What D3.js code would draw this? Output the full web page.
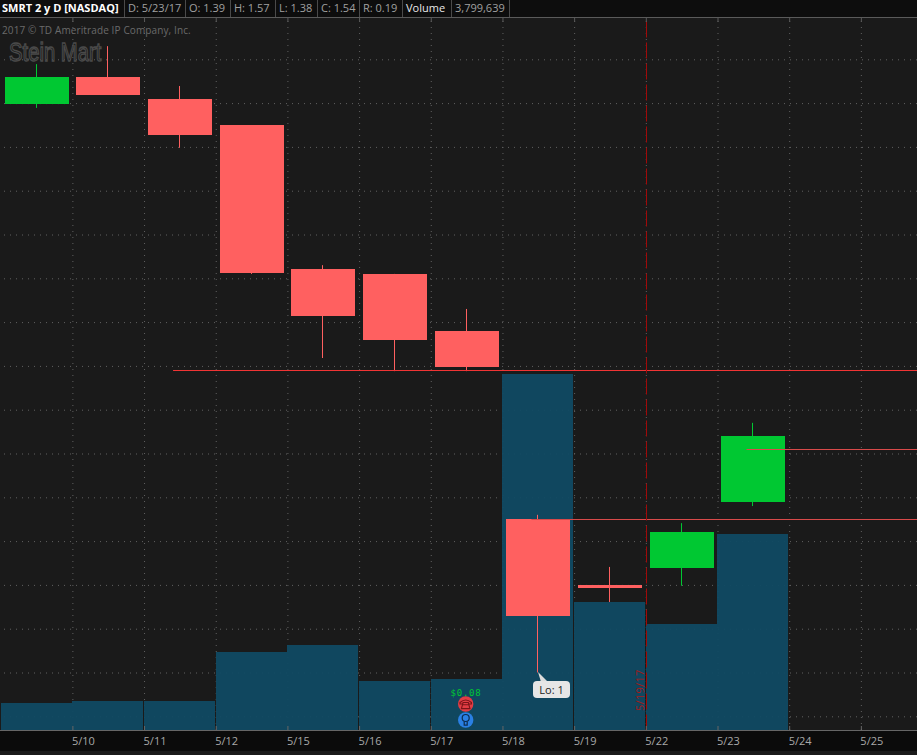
<!DOCTYPE html>
<html>
<head>
<meta charset="utf-8">
<title>SMRT 2 y D</title>
<script src="https://cdn.jsdelivr.net/npm/d3@7"></script>
<style>
  html, body { margin: 0; padding: 0; background: #1a1a1a; overflow: hidden; }
  svg { display: block; font-family: "Open Sans", sans-serif; }
  .grid line { stroke: #616161; stroke-dasharray: 1 5; }
  .grid path { display: none; }
</style>
</head>
<body>
<svg id="chart" width="917" height="755"></svg>
<script>
// daily candles
var days = ['5/9', '5/10', '5/11', '5/12', '5/15', '5/16', '5/17', '5/18', '5/19', '5/22', '5/23', '5/24', '5/25'];
var labelDays = days.slice(1);
var opens = [2.298, 2.360, 2.309, 2.250, 1.921, 1.910, 1.780, 1.350, 1.200, 1.239, 1.39];
var closes = [2.360, 2.319, 2.227, 1.912, 1.814, 1.759, 1.698, 1.129, 1.193, 1.321, 1.54];
var highs = [2.389, 2.430, 2.339, 2.250, 1.930, 1.910, 1.830, 1.360, 1.241, 1.341, 1.57];
var lows = [2.289, 2.319, 2.198, 1.910, 1.718, 1.688, 1.688, 1.00, 1.161, 1.198, 1.38];
var volumes = [523000, 562000, 562000, 1512000, 1648000, 950000, 989000, 6900000, 2480000, 2055000, 3799639];
var priceTicks = [0.9, 1.0, 1.1, 1.2, 1.3, 1.4, 1.5, 1.6, 1.7, 1.8, 1.9, 2.0, 2.1, 2.2, 2.3, 2.4];
var levelPrices = [1.69, 1.51, 1.35];
var levelStarts = ['5/11', '5/23', '5/18'];
var headerFields = ['D: 5/23/17', 'O: 1.39', 'H: 1.57', 'L: 1.38', 'C: 1.54', 'R: 0.19', 'Volume', '3,799,639'];
var headerEdges = [124, 185, 230, 275, 317, 359, 402, 451, 509];

var svg = d3.select('#chart');
var top_ = 17, bottom = 730;

var x = d3.scalePoint().domain(days).range([0.7, 0.7 + 71.68 * 12]);
var step = x.step();
var y = d3.scaleLinear().domain([0.9, 2.4]).range([716.3, 59.3]);
var yVol = d3.scaleLinear().domain([0, 3799639]).range([bottom, 534]);
var red = '#ff6060', green = '#00c832';

// grid
svg.append('g').attr('class', 'grid')
  .attr('transform', 'translate(0,' + bottom + ')')
  .call(d3.axisBottom(x).tickValues(labelDays).tickSize(-(bottom - top_)).tickFormat(''));
svg.append('g').attr('class', 'grid')
  .attr('transform', 'translate(917,0)')
  .call(d3.axisLeft(y).tickValues(priceTicks).tickSize(917).tickFormat(''));

// volume
svg.append('g').selectAll('rect')
  .data(volumes)
  .enter()
  .append('rect')
  .attr('x', function(d, i) {return Math.floor(x(days[i]) + 0.4);})
  .attr('y', function(d) {return Math.round(yVol(d));})
  .attr('width', 71)
  .attr('height', function(d) {return bottom - Math.round(yVol(d));})
  .attr('fill', '#104a63')
  .attr('fill-opacity', 0.95);

// copyright + logo
svg.append('text').attr('x', 2).attr('y', 33.5)
  .attr('font-size', 10).attr('letter-spacing', 0.12).attr('fill', '#6a6a6a')
  .text('2017 © TD Ameritrade IP Company, Inc.');
svg.append('text')
  .attr('transform', 'translate(9,61) scale(1.35,1.75)')
  .attr('font-family', '"Liberation Sans", sans-serif')
  .attr('font-size', 15)
  .attr('fill', 'none').attr('stroke', '#4a4a4a')
  .style('vector-effect', 'non-scaling-stroke')
  .attr('stroke-width', 1.2)
  .text('Stein Mart');

// candles
var candles = svg.append('g').selectAll('g')
  .data(opens)
  .enter()
  .append('g')
  .attr('fill', function(d, i) {return closes[i] >= d ? green : red;})
  .attr('stroke', function(d, i) {return closes[i] >= d ? green : red;});

candles.append('line')
  .attr('x1', function(d, i) {return Math.floor(x(days[i]) + step / 2 - 0.5) + 0.5;})
  .attr('x2', function(d, i) {return Math.floor(x(days[i]) + step / 2 - 0.5) + 0.5;})
  .attr('y1', function(d, i) {return y(highs[i]);})
  .attr('y2', function(d, i) {return y(lows[i]);});

candles.append('rect')
  .attr('x', function(d, i) {return Math.floor(x(days[i]) + 4.4);})
  .attr('width', 64)
  .attr('y', function(d, i) {return Math.round(y(Math.max(d, closes[i])));})
  .attr('height', function(d, i) {return Math.round(y(Math.min(d, closes[i]))) - Math.round(y(Math.max(d, closes[i])));})
  .attr('stroke', 'none');

// price levels, they sit on top of the candles
svg.append('g').selectAll('line')
  .data(levelPrices)
  .enter()
  .append('line')
  .attr('x1', function(d, i) {return x(levelStarts[i]) + 29;})
  .attr('x2', 917)
  .attr('y1', function(d) {return Math.round(y(d)) + 0.5;})
  .attr('y2', function(d) {return Math.round(y(d)) + 0.5;})
  .attr('stroke', function(d, i) {return i === 0 ? '#f03434' : '#d84a4a';})
  .attr('stroke-width', 1);

// current day marker
svg.append('line')
  .attr('x1', Math.round(x('5/22')) + 0.5).attr('x2', Math.round(x('5/22')) + 0.5)
  .attr('y1', top_).attr('y2', bottom)
  .attr('stroke', '#a00a0a').attr('stroke-width', 1)
  .attr('stroke-dasharray', '16 5')
  .attr('stroke-dashoffset', -4.5);
svg.append('text')
  .attr('transform', 'translate(644,711) rotate(-90)')
  .attr('font-size', 11).attr('letter-spacing', 0.3).attr('fill', '#a01c1c')
  .text('5/19/17');

// low bubble
var bubble = svg.append('g');
bubble.append('path').attr('d', 'M538,672 L548,682 L541,682 Z').attr('fill', '#dcdcdc');
bubble.append('rect').attr('x', 533).attr('y', 681).attr('width', 37).attr('height', 17).attr('rx', 4)
  .attr('fill', '#e6e6e6');
bubble.append('text').attr('x', 551.5).attr('y', 693.5).attr('text-anchor', 'middle')
  .attr('font-size', 11).attr('fill', '#222').text('Lo: 1');

// dividend + event icons
svg.append('text').attr('x', 466).attr('y', 696).attr('text-anchor', 'middle')
  .attr('font-family', '"DejaVu Sans Mono", monospace').attr('font-size', 9).attr('letter-spacing', 0.8)
  .attr('fill', '#00c832').text('$0.08');
svg.append('circle').attr('cx', 465.7).attr('cy', 704).attr('r', 7.7).attr('fill', '#e23c44');
svg.append('path').attr('d', 'M460,702.5 Q465.7,697.5 471.4,702.5 L471.4,704 L468.8,704 L468.3,702.5 L463.1,702.5 L462.6,704 L460,704 Z M462.5,704.8 L468.9,704.8 L470,708.6 L461.4,708.6 Z')
  .attr('fill', 'none').attr('stroke', '#7a1418').attr('stroke-width', 1.1);
svg.append('circle').attr('cx', 465.7).attr('cy', 720).attr('r', 7.7).attr('fill', '#2a80e4');
svg.append('circle').attr('cx', 465.7).attr('cy', 718).attr('r', 3.5).attr('fill', 'none').attr('stroke', '#0c2c50').attr('stroke-width', 1.2);
svg.append('path').attr('d', 'M464.2,721.5 L464.2,725.2 L467.2,725.2 L467.2,721.5').attr('fill', 'none').attr('stroke', '#0c2c50').attr('stroke-width', 1.2);

// date axis
svg.append('rect').attr('x', 0).attr('y', bottom).attr('width', 917).attr('height', 21).attr('fill', '#0b0b0b');
var axis = svg.append('g')
  .attr('transform', 'translate(0,' + bottom + ')')
  .call(d3.axisBottom(x).tickValues(labelDays).tickSize(-4).tickPadding(7));
axis.select('.domain').attr('d', 'M0,0.5H917').attr('stroke', '#666');
axis.selectAll('.tick line').attr('stroke', '#666');
axis.selectAll('.tick text')
  .attr('text-anchor', 'start').attr('x', -1)
  .attr('font-family', '"Open Sans", sans-serif').attr('font-size', 11).attr('fill', '#a8a8a8');

// short ticks under the header
var topTicks = svg.append('g')
  .attr('transform', 'translate(0,' + (top_ + 1) + ')')
  .call(d3.axisBottom(x).tickValues(labelDays).tickSize(4).tickFormat(''));
topTicks.select('.domain').remove();
topTicks.selectAll('.tick line').attr('stroke', '#5a5a5a');

// header strip
svg.append('rect').attr('width', 917).attr('height', 17).attr('fill', '#0d0d0d');
svg.append('line').attr('x1', 0).attr('x2', 917).attr('y1', 17.5).attr('y2', 17.5).attr('stroke', '#5a5a5a');
svg.append('text').attr('x', 2).attr('y', 12).attr('font-size', 11).attr('font-weight', 700).attr('fill', '#fff')
  .text('SMRT 2 y D [NASDAQ]');
svg.append('g').selectAll('line')
  .data(headerEdges)
  .enter()
  .append('line')
  .attr('x1', function(d) {return d + 0.5;})
  .attr('x2', function(d) {return d + 0.5;})
  .attr('y1', 0).attr('y2', 17)
  .attr('stroke', '#4a4a4a');
svg.append('g').selectAll('text')
  .data(headerFields)
  .enter()
  .append('text')
  .attr('x', function(d, i) {return headerEdges[i] + 4;})
  .attr('y', 12)
  .attr('font-size', 11)
  .attr('fill', function(d) {return d === 'Volume' ? '#e8e8e8' : '#a0a0a0';})
  .text(function(d) {return d;});

// bottom edge below the axis strip
svg.append('rect').attr('x', 0).attr('y', 751).attr('width', 917).attr('height', 4).attr('fill', '#1a1a1a');
</script>
</body>
</html>
